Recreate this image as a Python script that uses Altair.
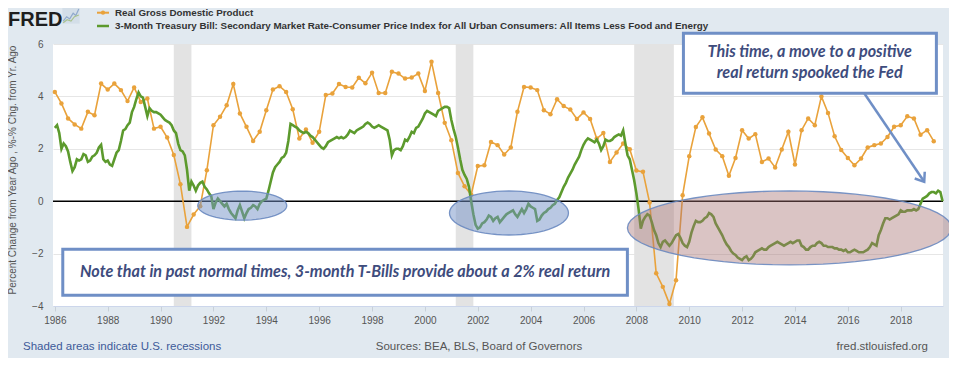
import math
import altair as alt
import pandas as pd

# ---------------- data ----------------
# Real GDP, % change from year ago, quarterly from 1986Q1
gdp_yoy = [
    4.17, 3.73, 3.16, 2.93,   # 1986
    2.77, 3.41, 3.28, 4.49,   # 1987
    4.26, 4.49, 4.24, 3.82,   # 1988
    4.34, 3.79, 3.92, 2.77,   # 1989
    2.84, 2.43, 1.76, 0.65,   # 1990
    -0.98, -0.51, -0.19, 1.18,  # 1991
    2.90, 3.22, 3.66, 4.47,   # 1992
    3.35, 2.84, 2.30, 2.65,   # 1993
    3.47, 4.26, 4.39, 4.17,   # 1994
    3.51, 2.39, 2.74, 2.23,   # 1995
    2.65, 4.05, 4.11, 4.47,   # 1996
    4.36, 4.34, 4.71, 4.50,   # 1997
    4.90, 4.13, 4.13, 4.94,   # 1998
    4.87, 4.68, 4.72, 4.87,   # 1999
    4.21, 5.32, 4.13, 2.99,   # 2000
    2.33, 1.08, 0.57, 0.25,   # 2001
    1.34, 1.37, 2.26, 2.14,   # 2002
    1.78, 2.05, 3.41, 4.36,   # 2003
    4.34, 4.24, 3.47, 3.32,   # 2004
    3.89, 3.63, 3.50, 3.14,   # 2005
    3.39, 3.14, 2.39, 2.60,   # 2006
    1.50, 1.86, 2.20, 1.98,   # 2007
    1.17, 1.12, -0.05, -2.75,  # 2008
    -3.27, -3.92, -3.02, 0.23,  # 2009
    1.72, 2.83, 3.20, 2.58,   # 2010
    1.97, 1.72, 0.97, 1.65,   # 2011
    2.71, 2.39, 2.56, 1.50,   # 2012
    1.63, 1.29, 1.97, 2.65,   # 2013
    1.40, 2.71, 3.16, 2.90,   # 2014
    4.00, 3.37, 2.48, 1.95,   # 2015
    1.65, 1.37, 1.63, 2.05,   # 2016
    2.14, 2.20, 2.45, 2.84,   # 2017
    2.90, 3.24, 3.16, 2.54,   # 2018
    2.71, 2.29,               # 2019
]

# 3-month T-bill minus core CPI inflation, monthly from 1986-01
tbill_real = [
    2.8, 2.9, 2.6, 2.0, 2.2, 2.1, 1.9, 1.5, 1.15, 1.3, 1.6, 1.55,          # 1986
    1.6, 1.8, 1.75, 1.5, 1.55, 1.7, 1.75, 1.85, 2.05, 2.15, 1.6, 1.5,       # 1987
    1.55, 1.4, 1.35, 1.6, 1.85, 1.95, 2.3, 2.7, 2.75, 2.9, 3.0, 3.4,        # 1988
    3.6, 3.9, 4.15, 4.0, 3.95, 3.6, 3.25, 3.55, 3.45, 3.4, 3.4, 3.35,       # 1989
    3.3, 3.2, 3.1, 3.05, 3.0, 2.9, 2.7, 2.6, 2.2, 1.95, 1.9, 1.75,          # 1990
    1.2, 0.4, 0.75, 0.6, 0.4, 0.6, 0.7, 0.75, 0.55, 0.45, 0.3, 0.2,         # 1991
    -0.3, -0.05, 0.1, 0.0, -0.1, -0.2, -0.1, -0.3, -0.45, -0.55, -0.65, -0.35,  # 1992
    -0.15, -0.4, -0.65, -0.45, -0.3, -0.25, -0.15, -0.2, -0.3, -0.1, 0.0, 0.05,  # 1993
    0.1, 0.4, 0.75, 1.1, 1.3, 1.4, 1.5, 1.65, 1.7, 1.85, 2.3, 2.95,         # 1994
    2.9, 2.85, 2.8, 2.7, 2.65, 2.6, 2.65, 2.6, 2.5, 2.45, 2.35, 2.25,       # 1995
    2.15, 2.05, 2.0, 2.1, 2.25, 2.3, 2.35, 2.4, 2.45, 2.4, 2.45, 2.4,       # 1996
    2.45, 2.55, 2.7, 2.65, 2.6, 2.7, 2.75, 2.8, 2.85, 2.95, 3.0, 2.95,      # 1997
    2.85, 2.8, 2.85, 2.9, 2.85, 2.8, 2.75, 2.7, 2.35, 1.75, 1.95, 2.0,      # 1998
    2.0, 1.95, 2.1, 2.35, 2.3, 2.45, 2.65, 2.6, 2.8, 2.85, 3.0, 3.15,       # 1999
    3.35, 3.45, 3.4, 3.35, 3.3, 3.25, 3.45, 3.5, 3.55, 3.6, 3.6, 3.55,      # 2000
    3.1, 2.75, 2.45, 2.05, 1.6, 1.2, 1.0, 0.85, 0.55, 0.0, -0.5, -0.9,      # 2001
    -1.05, -1.0, -0.85, -0.8, -0.7, -0.55, -0.6, -0.75, -0.65, -0.6, -0.8, -0.7,  # 2002
    -0.6, -0.5, -0.45, -0.4, -0.35, -0.5, -0.6, -0.45, -0.3, -0.45, -0.3, -0.1,   # 2003
    -0.2, -0.25, -0.3, -0.75, -0.7, -0.55, -0.45, -0.4, -0.3, -0.25, -0.15, -0.1,  # 2004
    0.05, 0.15, 0.35, 0.55, 0.7, 0.9, 1.05, 1.2, 1.4, 1.55, 1.7, 1.95,      # 2005
    2.15, 2.3, 2.4, 2.35, 2.3, 2.25, 2.35, 2.2, 1.95, 2.1, 2.35, 2.3,       # 2006
    2.3, 2.35, 2.45, 2.5, 2.55, 2.5, 2.7, 2.2, 1.75, 1.6, 1.2, 0.8,         # 2007
    0.3, -0.3, -1.05, -0.75, -0.6, -0.5, -0.55, -0.8, -1.1, -1.3, -1.6, -1.75,  # 2008
    -1.55, -1.5, -1.6, -1.7, -1.6, -1.45, -1.3, -1.25, -1.4, -1.6, -1.7, -1.75,  # 2009
    -1.55, -1.2, -0.95, -0.75, -0.8, -0.8, -0.75, -0.65, -0.6, -0.45, -0.5, -0.6,  # 2010
    -0.85, -1.0, -1.15, -1.3, -1.5, -1.65, -1.75, -1.9, -2.0, -2.05, -2.15, -2.2,  # 2011
    -2.25, -2.15, -2.1, -2.25, -2.2, -2.1, -1.95, -1.9, -1.85, -1.8, -1.85, -1.85,  # 2012
    -1.75, -1.7, -1.65, -1.6, -1.55, -1.6, -1.65, -1.7, -1.65, -1.6, -1.55, -1.6,  # 2013
    -1.55, -1.5, -1.5, -1.7, -1.75, -1.85, -1.85, -1.75, -1.7, -1.7, -1.6, -1.55,  # 2014
    -1.6, -1.7, -1.7, -1.75, -1.75, -1.75, -1.8, -1.8, -1.85, -1.85, -1.9, -1.85,  # 2015
    -1.95, -1.95, -1.9, -1.85, -1.9, -1.95, -1.95, -1.95, -1.9, -1.85, -1.75, -1.6,  # 2016
    -1.65, -1.7, -1.3, -1.1, -0.85, -0.65, -0.65, -0.7, -0.65, -0.6, -0.55, -0.5,  # 2017
    -0.35, -0.4, -0.4, -0.35, -0.35, -0.35, -0.3, -0.35, -0.3, -0.1, 0.1, 0.15,  # 2018
    0.2, 0.3, 0.35, 0.35, 0.3, 0.4, 0.35, 0.0,                               # 2019
]

recession_start = [1990.5, 2001.167, 2007.917]
recession_end = [1991.167, 2001.833, 2009.417]

x_ticks = list(range(1986, 2019, 2))
y_ticks = list(range(-4, 7))

legend_labels = [
    "Real Gross Domestic Product",
    "3-Month Treasury Bill: Secondary Market Rate-Consumer Price Index for All Urban Consumers: All Items Less Food and Energy",
]
note_left = "Note that in past normal times, 3-month T-Bills provide about a 2% real return"
note_right = ["This time, a move to a positive", "real return spooked the Fed"]

# ---------------- styling ----------------
ORANGE = "#E9A23B"
GREEN = "#5C9A2D"
BOXBLUE = "#6F8FC6"
NAVY = "#3E4C7D"
BG = "#E1E9F0"
FONT = "Liberation Sans"
NOTE_FONT = "Lato"
NOTE_SIZE = 16.2

X_DOM = [1985.93, 2019.6]
Y_DOM = [-4, 6]
xs = alt.Scale(domain=X_DOM, nice=False, zero=False)
ys = alt.Scale(domain=Y_DOM, nice=False, zero=False)

gdp_df = pd.DataFrame({"t": [1986 + i / 4 for i in range(len(gdp_yoy))], "v": gdp_yoy})
tb_df = pd.DataFrame({"t": [1986 + m / 12 for m in range(len(tbill_real))], "v": tbill_real})
rec_df = pd.DataFrame({"s": recession_start, "e": recession_end})
one = pd.DataFrame({"a": [0]})


def X(field, **kw):
    return alt.X(field, type="quantitative", scale=xs, title=None, **kw)


def Y(field, **kw):
    return alt.Y(field, type="quantitative", scale=ys, title=None, **kw)


recess = alt.Chart(rec_df).mark_rect(color="#E3E3E3").encode(
    x=X("s", axis=alt.Axis(values=x_ticks, format="d", grid=False, labelFont=FONT,
                           labelFontSize=10, labelColor="#555555", tickColor="#C8D0D8",
                           tickSize=5, labelPadding=4, domainColor="#CCD6EB")),
    x2="e",
    y=alt.value(0),
    y2=alt.value(262),
)

grid_axis = alt.Axis(values=y_ticks, grid=True, gridColor="#E6E6E6", tickSize=0, domain=False,
                     labelFont=FONT, labelFontSize=10, labelColor="#555555", labelPadding=10)

zero = alt.Chart(pd.DataFrame({"v": [0]})).mark_rule(color="black", strokeWidth=1.6).encode(
    y=Y("v", axis=grid_axis)
)

gdp_line = alt.Chart(gdp_df).mark_line(color=ORANGE, strokeWidth=1.6).encode(x=X("t"), y=Y("v"))
gdp_pts = alt.Chart(gdp_df).mark_circle(color=ORANGE, size=20, opacity=1).encode(x=X("t"), y=Y("v"))
tb_line = alt.Chart(tb_df).mark_line(color=GREEN, strokeWidth=2.6).encode(x=X("t"), y=Y("v"))


def ellipse_path(ratio, n=60):
    pts = []
    for k in range(n):
        t = 2 * math.pi * k / n
        pts.append(f"{math.cos(t):.4f},{ratio * math.sin(t):.4f}")
    return "M" + " L".join(pts) + " Z"


def ellipse(cx, cy, w, h, fill, opacity):
    return alt.Chart(pd.DataFrame({"t": [cx], "v": [cy]})).mark_point(
        shape=ellipse_path(h / w), size=w * w, fill=fill, fillOpacity=opacity,
        stroke="#6A89C0", strokeWidth=1.3, strokeOpacity=0.9, opacity=1, filled=False,
    ).encode(x=X("t"), y=Y("v"))


ell1 = ellipse(1993.09, -0.17, 89, 29, "#7391C8", 0.5)
ell2 = ellipse(2003.18, -0.45, 119, 44, "#7391C8", 0.5)
ell3 = ellipse(2013.79, -1.02, 324, 74, "#A87272", 0.42)

box1 = alt.Chart(pd.DataFrame({"a": [1986.30], "b": [2007.66], "c": [-1.83], "d": [-3.59]})).mark_rect(
    fill="white", stroke=BOXBLUE, strokeWidth=3
).encode(x=X("a"), x2="b", y=Y("c"), y2="d")
txt1 = alt.Chart(pd.DataFrame({"t": [1996.98], "v": [-2.71], "s": [note_left]})).mark_text(
    font=NOTE_FONT, fontSize=NOTE_SIZE, fontStyle="italic", fontWeight="bold", color=NAVY,
    align="center", baseline="middle"
).encode(x=X("t"), y=Y("v"), text="s:N")

box2 = alt.Chart(pd.DataFrame({"a": [2009.78], "b": [2019.35], "c": [6.41], "d": [4.12]})).mark_rect(
    fill="white", stroke=BOXBLUE, strokeWidth=3
).encode(x=X("a"), x2="b", y=Y("c"), y2="d")
txt2 = alt.Chart(pd.DataFrame({"t": [2014.56, 2014.56], "v": [5.69, 4.89], "s": note_right})).mark_text(
    font=NOTE_FONT, fontSize=NOTE_SIZE, fontStyle="italic", fontWeight="bold", color=NAVY,
    align="center", baseline="middle"
).encode(x=X("t"), y=Y("v"), text="s:N")

arrow = alt.Chart(pd.DataFrame({"a": [2016.62], "b": [2018.89], "c": [4.12], "d": [0.74]})).mark_rule(
    color=BOXBLUE, strokeWidth=2.5
).encode(x=X("a"), x2="b", y=Y("c"), y2="d")
arrow_head = alt.Chart(pd.DataFrame({"t": [2018.89], "v": [0.74]})).mark_point(
    shape="M-0.75,-1 L0,0 L0.75,-1", size=260, angle=326, filled=False, stroke=BOXBLUE,
    strokeWidth=2.5, opacity=1
).encode(x=X("t"), y=Y("v"))


def ptext(txt, x, y, **kw):
    return alt.Chart(one).mark_text(text=txt, **kw).encode(x=alt.value(x), y=alt.value(y))


fred = ptext("FRED", -45, -18, font=FONT, fontSize=20, fontWeight="bold", color="#1E1E1E",
             align="left", baseline="alphabetic")
icon_bg = alt.Chart(one).mark_point(
    shape="M-1,-1 L1,-1 L1,1 L-1,1 Z", size=300, filled=True, color="#D3DEE8", opacity=1
).encode(x=alt.value(18), y=alt.value(-29))
icon_l1 = alt.Chart(one).mark_point(
    shape="M-0.9,0.7 L-0.5,0.2 L-0.15,0.45 L0.25,-0.2 L0.55,0.05 L0.9,-0.7", size=300,
    filled=False, stroke="#8FA9CC", strokeWidth=1.2, opacity=1
).encode(x=alt.value(18), y=alt.value(-29))
icon_l2 = alt.Chart(one).mark_point(
    shape="M-0.9,0.9 L-0.45,0.55 L0.0,0.7 L0.4,0.2 L0.9,0.0", size=300,
    filled=False, stroke="#A9C28E", strokeWidth=1.2, opacity=1
).encode(x=alt.value(18), y=alt.value(-29))

leg1_line = alt.Chart(one).mark_rule(color=ORANGE, strokeWidth=2).encode(
    x=alt.value(44), x2=alt.value(56), y=alt.value(-31.3))
leg1_dot = alt.Chart(one).mark_circle(color=ORANGE, size=18, opacity=1).encode(
    x=alt.value(50), y=alt.value(-31.3))
leg2_line = alt.Chart(one).mark_rule(color=GREEN, strokeWidth=2.5).encode(
    x=alt.value(44), x2=alt.value(56), y=alt.value(-18))
leg1 = ptext(legend_labels[0], 62, -27.8, font=FONT, fontSize=9.8, fontWeight="bold", color="#333333",
             align="left", baseline="alphabetic")
leg2 = ptext(legend_labels[1], 62, -14.6, font=FONT, fontSize=9.8, fontWeight="bold", color="#333333",
             align="left", baseline="alphabetic")

ytitle = ptext("Percent Change from Year Ago , %-% Chg. from Yr. Ago", -40, 126, font=FONT,
               fontSize=10, color="#555555", angle=270, align="center", baseline="middle")

foot1 = ptext("Shaded areas indicate U.S. recessions", -30, 303, font=FONT, fontSize=11.5,
              color="#3D5A99", align="left", baseline="middle")
foot2 = ptext("Sources: BEA, BLS, Board of Governors", 426, 303, font=FONT, fontSize=11.5,
              color="#555555", align="center", baseline="middle")
foot3 = ptext("fred.stlouisfed.org", 875, 303, font=FONT, fontSize=11.5,
              color="#555555", align="right", baseline="middle")

chart = alt.layer(
    recess, zero, gdp_line, gdp_pts, tb_line, ell1, ell2, ell3,
    box1, txt1, box2, txt2, arrow, arrow_head,
    fred, icon_bg, icon_l1, icon_l2, leg1_line, leg1_dot, leg2_line, leg1, leg2,
    ytitle, foot1, foot2, foot3,
).properties(
    width=890, height=262,
    autosize=alt.AutoSizeParams(type="none"),
    padding={"left": 45, "top": 36, "right": 6, "bottom": 52},
    background=BG,
).configure_view(fill="white", stroke=None)

chart.save("out.html", embed_options={"renderer": "svg", "actions": False})
